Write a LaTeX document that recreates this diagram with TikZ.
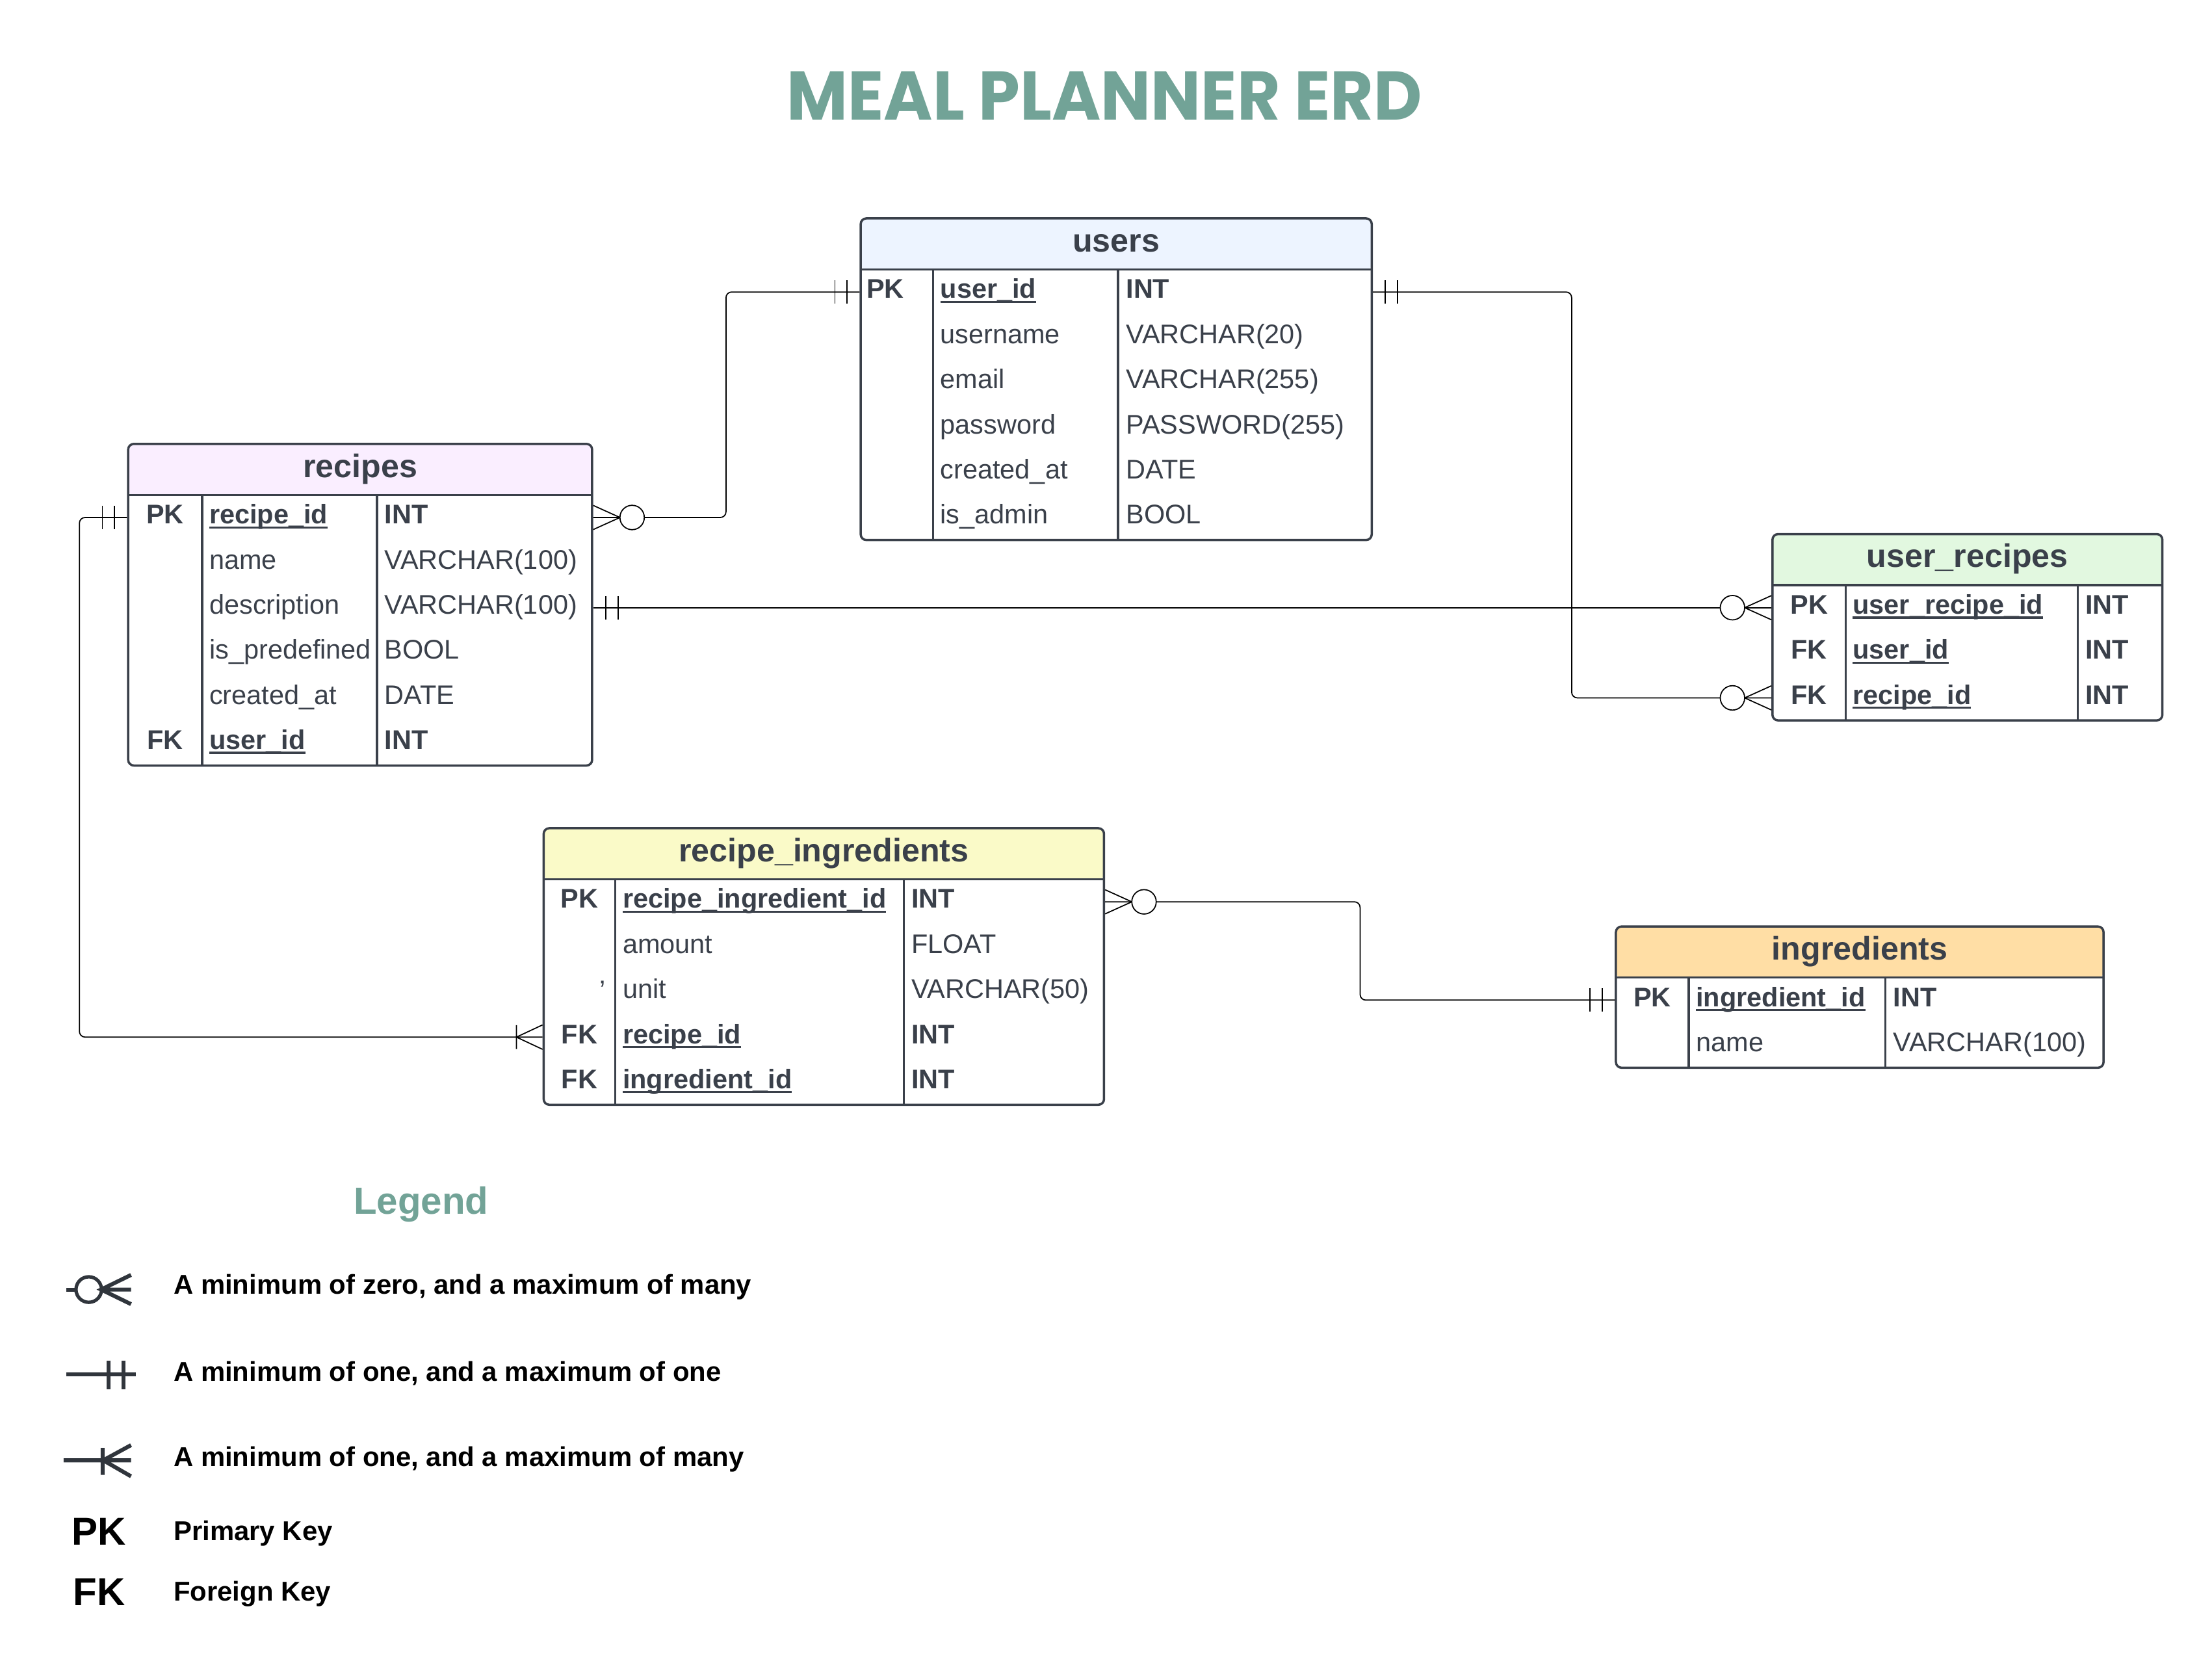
\documentclass[tikz,border=0pt]{standalone}
\usepackage{fontspec}
\setmainfont{Liberation Sans}
\newfontfamily\titlefont{Poppins}

\definecolor{ink}{HTML}{3A404A}
\definecolor{titleGreen}{HTML}{72A397}
\definecolor{usersFill}{HTML}{EDF4FF}
\definecolor{recipesFill}{HTML}{FAEEFF}
\definecolor{linkFill}{HTML}{E2F8E0}
\definecolor{mixFill}{HTML}{FAFAC8}
\definecolor{itemFill}{HTML}{FFDEA5}
\definecolor{markInk}{HTML}{30353C}

\newcommand{\keyfield}[1]{\setbox0=\hbox{#1}\rlap{\rule[-3.2pt]{\wd0}{1.5pt}}\box0}

\tikzstyle{tableBox}=[draw=ink, line width=1.6pt, rounded corners=4pt, inner sep=0pt]
\tikzstyle{tableLine}=[draw=ink, line width=1.6pt]
\tikzstyle{cell}=[inner sep=0pt, text height=15pt, text depth=6pt, text=ink, font=\fontsize{19}{22}\selectfont]
\tikzstyle{keyCell}=[cell, font=\fontsize{19}{22}\selectfont\bfseries]
\tikzstyle{headText}=[inner sep=0pt, text height=17pt, text depth=6pt, text=ink, font=\fontsize{23}{26}\selectfont\bfseries]
\tikzstyle{conn}=[draw=black, line width=0.8pt]
\tikzstyle{legendText}=[anchor=base west, inner sep=0pt, font=\fontsize{19.2}{22}\selectfont\bfseries]
\tikzstyle{legendMark}=[draw=markInk, line width=2.8pt]

\tikzset{
  headFill/.style={path picture={\fill[#1] (path picture bounding box.north west) rectangle ([yshift=-36pt]path picture bounding box.north east);}},
  oneOne/.pic={\draw[conn] (8.8,-8.2) -- (8.8,8.2) (17.4,-8.2) -- (17.4,8.2);},
  oneMany/.pic={\draw[conn] (0,-8.6) -- (18.4,0) -- (0,8.6) (18.4,-8.4) -- (18.4,8.4);},
  zeroMany/.pic={\draw[conn] (0,-8.5) -- (18.8,0) -- (0,8.5); \draw[conn, fill=white] (27.4,0) circle[radius=8.6];}
}

\begin{document}
\begin{tikzpicture}[x=1pt, y=-1pt]
\useasboundingbox (0,0) rectangle (1560,1181.8);

\node[anchor=base, text=titleGreen, xscale=0.965, font=\titlefont\bfseries\fontsize{48.6}{55}\selectfont] (title) at (779,84.8) {MEAL PLANNER ERD};

% users
\node[tableBox, headFill=usersFill, minimum width=360.4pt, minimum height=226.8pt] (users) at (787.2,267.4) {};
\draw[tableLine] (607,190) -- (967.4,190) (658,190) -- (658,380.8) (788.5,190) -- (788.5,380.8);
\node[headText] (usersT) at (787.2,172) {users};
\node[keyCell, anchor=west] (u1k) at (611,205.9) {PK};
\node[keyCell, anchor=west] (u1n) at (663,205.9) {\keyfield{user\_id}};
\node[keyCell, anchor=west] (u1t) at (794,205.9) {INT};
\node[cell, anchor=west] (u2n) at (663,237.7) {username};
\node[cell, anchor=west] (u2t) at (794,237.7) {VARCHAR(20)};
\node[cell, anchor=west] (u3n) at (663,269.5) {email};
\node[cell, anchor=west] (u3t) at (794,269.5) {VARCHAR(255)};
\node[cell, anchor=west] (u4n) at (663,301.3) {password};
\node[cell, anchor=west] (u4t) at (794,301.3) {PASSWORD(255)};
\node[cell, anchor=west] (u5n) at (663,333.1) {created\_at};
\node[cell, anchor=west] (u5t) at (794,333.1) {DATE};
\node[cell, anchor=west] (u6n) at (663,364.9) {is\_admin};
\node[cell, anchor=west] (u6t) at (794,364.9) {BOOL};

% recipes
\node[tableBox, headFill=recipesFill, minimum width=327.2pt, minimum height=226.8pt] (recipes) at (254,426.4) {};
\draw[tableLine] (90.4,349) -- (417.6,349) (142.6,349) -- (142.6,539.8) (265.9,349) -- (265.9,539.8);
\node[headText] (recipesT) at (254,331) {recipes};
\node[keyCell] (r1k) at (116.5,364.9) {PK};
\node[keyCell, anchor=west] (r1n) at (147.5,364.9) {\keyfield{recipe\_id}};
\node[keyCell, anchor=west] (r1t) at (271,364.9) {INT};
\node[cell, anchor=west] (r2n) at (147.5,396.7) {name};
\node[cell, anchor=west] (r2t) at (271,396.7) {VARCHAR(100)};
\node[cell, anchor=west] (r3n) at (147.5,428.5) {description};
\node[cell, anchor=west] (r3t) at (271,428.5) {VARCHAR(100)};
\node[cell, anchor=west] (r4n) at (147.5,460.3) {is\_predefined};
\node[cell, anchor=west] (r4t) at (271,460.3) {BOOL};
\node[cell, anchor=west] (r5n) at (147.5,492.1) {created\_at};
\node[cell, anchor=west] (r5t) at (271,492.1) {DATE};
\node[keyCell] (r6k) at (116.5,523.9) {FK};
\node[keyCell, anchor=west] (r6n) at (147.5,523.9) {\keyfield{user\_id}};
\node[keyCell, anchor=west] (r6t) at (271,523.9) {INT};

% user_recipes
\node[tableBox, headFill=linkFill, minimum width=275pt, minimum height=131.4pt] (ur) at (1387.5,442.3) {};
\draw[tableLine] (1250,412.6) -- (1525,412.6) (1301.7,412.6) -- (1301.7,508) (1465.3,412.6) -- (1465.3,508);
\node[headText] (urT) at (1387.5,394.6) {user\_recipes};
\node[keyCell] (ur1k) at (1275.9,428.5) {PK};
\node[keyCell, anchor=west] (ur1n) at (1306.5,428.5) {\keyfield{user\_recipe\_id}};
\node[keyCell, anchor=west] (ur1t) at (1470.5,428.5) {INT};
\node[keyCell] (ur2k) at (1275.9,460.3) {FK};
\node[keyCell, anchor=west] (ur2n) at (1306.5,460.3) {\keyfield{user\_id}};
\node[keyCell, anchor=west] (ur2t) at (1470.5,460.3) {INT};
\node[keyCell] (ur3k) at (1275.9,492.1) {FK};
\node[keyCell, anchor=west] (ur3n) at (1306.5,492.1) {\keyfield{recipe\_id}};
\node[keyCell, anchor=west] (ur3t) at (1470.5,492.1) {INT};

% recipe_ingredients
\node[tableBox, headFill=mixFill, minimum width=395.2pt, minimum height=195pt] (ri) at (581,681.5) {};
\draw[tableLine] (383.4,620) -- (778.6,620) (434,620) -- (434,779) (637.4,620) -- (637.4,779);
\node[headText] (riT) at (581,602) {recipe\_ingredients};
\node[keyCell] (ri1k) at (408.7,635.9) {PK};
\node[keyCell, anchor=west] (ri1n) at (439,635.9) {\keyfield{recipe\_ingredient\_id}};
\node[keyCell, anchor=west] (ri1t) at (642.5,635.9) {INT};
\node[cell, anchor=west] (ri2n) at (439,667.7) {amount};
\node[cell, anchor=west] (ri2t) at (642.5,667.7) {FLOAT};
\node[cell] (ri3k) at (425,700.5) {'};
\node[cell, anchor=west] (ri3n) at (439,699.5) {unit};
\node[cell, anchor=west] (ri3t) at (642.5,699.5) {VARCHAR(50)};
\node[keyCell] (ri4k) at (408.7,731.3) {FK};
\node[keyCell, anchor=west] (ri4n) at (439,731.3) {\keyfield{recipe\_id}};
\node[keyCell, anchor=west] (ri4t) at (642.5,731.3) {INT};
\node[keyCell] (ri5k) at (408.7,763.1) {FK};
\node[keyCell, anchor=west] (ri5n) at (439,763.1) {\keyfield{ingredient\_id}};
\node[keyCell, anchor=west] (ri5t) at (642.5,763.1) {INT};

% ingredients
\node[tableBox, headFill=itemFill, minimum width=343.9pt, minimum height=99.6pt] (ing) at (1311.55,703.1) {};
\draw[tableLine] (1139.6,689.3) -- (1483.5,689.3) (1191,689.3) -- (1191,752.9) (1329.6,689.3) -- (1329.6,752.9);
\node[headText] (ingT) at (1311.55,671.3) {ingredients};
\node[keyCell] (ing1k) at (1165.3,705.2) {PK};
\node[keyCell, anchor=west] (ing1n) at (1196,705.2) {\keyfield{ingredient\_id}};
\node[keyCell, anchor=west] (ing1t) at (1335,705.2) {INT};
\node[cell, anchor=west] (ing2n) at (1196,737) {name};
\node[cell, anchor=west] (ing2t) at (1335,737) {VARCHAR(100)};

% relations
\coordinate (bendA) at (512,0);
\coordinate (bendB) at (1108.4,0);
\coordinate (bendC) at (56,0);
\coordinate (bendD) at (959.2,0);
\draw[conn, rounded corners=4pt] (users.west |- u1n) -| (bendA |- r1n) -- (recipes.east |- r1n);
\draw[conn, rounded corners=4pt] (users.east |- u1n) -| (bendB |- ur3n) -- (ur.west |- ur3n);
\draw[conn] (recipes.east |- r3n) -- (ur.west |- ur1n);
\draw[conn, rounded corners=4pt] (recipes.west |- r1n) -| (bendC |- ri4n) -- (ri.west |- ri4n);
\draw[conn, rounded corners=4pt] (ri.east |- ri1n) -| (bendD |- ing1n) -- (ing.west |- ing1n);
\pic[xscale=-1] at (users.west |- u1n) {oneOne};
\pic at (recipes.east |- r1n) {zeroMany};
\pic at (users.east |- u1n) {oneOne};
\pic[xscale=-1] at (ur.west |- ur3n) {zeroMany};
\pic at (recipes.east |- r3n) {oneOne};
\pic[xscale=-1] at (ur.west |- ur1n) {zeroMany};
\pic[xscale=-1] at (recipes.west |- r1n) {oneOne};
\pic[xscale=-1] at (ri.west |- ri4n) {oneMany};
\pic at (ri.east |- ri1n) {zeroMany};
\pic[xscale=-1] at (ing.west |- ing1n) {oneOne};

% legend
\node[anchor=base, text=titleGreen, font=\fontsize{26.7}{30}\selectfont\bfseries] (legendT) at (297,856) {Legend};
\draw[legendMark] (46.9,909.3) -- (53.7,909.3);
\draw[legendMark, line width=2.4pt] (62.6,909.3) circle[radius=9];
\draw[legendMark] (92.4,899) -- (71.3,909.3) -- (92.4,919.6) (71.3,909.3) -- (92.4,909.3);
\node[legendText] (zeroManyT) at (122.3,912.6) {A minimum of zero, and a maximum of many};
\draw[legendMark] (46.9,969) -- (95.9,969) (76.6,959.3) -- (76.6,979.7) (87.2,959.3) -- (87.2,979.7);
\node[legendText] (oneOneT) at (122.3,974) {A minimum of one, and a maximum of one};
\draw[legendMark] (44.9,1029.7) -- (92.4,1029.7) (72.4,1021) -- (72.4,1040) (92.4,1019) -- (72.8,1029.7) -- (92.4,1041);
\node[legendText] (oneManyT) at (122.3,1033.8) {A minimum of one, and a maximum of many};
\node[anchor=base, inner sep=0pt, font=\fontsize{27.5}{30}\selectfont\bfseries] (pkT) at (69.6,1089.4) {PK};
\node[legendText] (pkText) at (122.3,1086.1) {Primary Key};
\node[anchor=base, inner sep=0pt, font=\fontsize{27.5}{30}\selectfont\bfseries] (fkT) at (70,1132) {FK};
\node[legendText] (fkText) at (122.3,1128.7) {Foreign Key};
\end{tikzpicture}
\end{document}
